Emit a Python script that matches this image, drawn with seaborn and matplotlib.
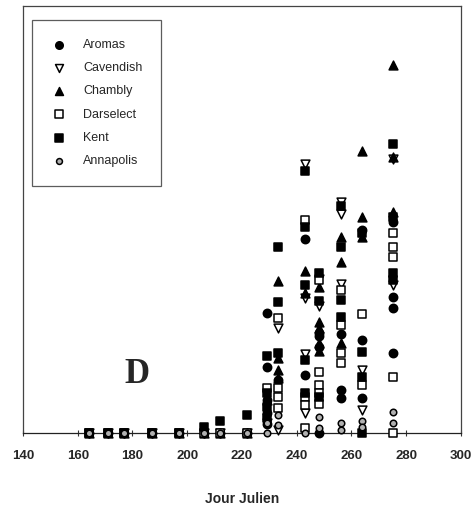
import matplotlib
matplotlib.use("Agg")
import matplotlib.pyplot as plt
import seaborn as sns
import pandas as pd

# Days sampled (Julian day) with no catches for any cultivar
early_days = [164, 171, 177, 187, 197, 206, 212, 222]

# Observations per cultivar: Julian day and relative value
aromas_day = early_days + [229, 229, 229, 229, 229, 233, 243, 243, 248, 248, 248, 248,
                           256, 256, 256, 264, 264, 264, 275, 275, 275, 275]
aromas_val = [0] * 8 + [28.0, 15.5, 7.7, 4.6, 2.0, 12.4, 45.4, 13.6, 23.5, 22.6, 20.2, 0,
                        23.3, 10.1, 8.1, 47.5, 21.8, 8.1, 49.5, 31.9, 29.2, 18.8]

cavendish_day = early_days + [229, 233, 233, 243, 243, 243, 243, 248, 248,
                              256, 256, 256, 264, 264, 275, 275]
cavendish_val = [0] * 8 + [2.3, 24.5, 0.7, 63.0, 31.7, 18.5, 4.6, 29.7, 36.0,
                           54.2, 51.4, 35.0, 14.8, 5.4, 64.1, 34.7]

chambly_day = early_days + [229, 233, 233, 233, 233, 243, 243, 248, 248, 248, 248, 248,
                            256, 256, 256, 264, 264, 264, 275, 275, 275]
chambly_val = [0] * 8 + [7.7, 35.6, 17.5, 14.8, 12.8, 38.0, 32.7, 34.3, 26.1, 24.5, 21.0, 19.3,
                         46.0, 40.1, 21.0, 66.0, 50.5, 46.0, 86.2, 64.7, 51.8]

darselect_day = early_days + [229, 233, 233, 233, 233, 243, 243, 243, 243,
                              248, 248, 248, 248, 248, 256, 256, 256, 256,
                              264, 264, 275, 275, 275, 275, 275]
darselect_val = [0] * 8 + [10.5, 26.9, 10.5, 8.5, 5.8, 49.9, 8.5, 6.6, 1.1,
                           35.8, 14.4, 11.2, 9.3, 6.9, 33.5, 25.3, 18.7, 16.3,
                           27.9, 11.2, 46.8, 43.6, 41.3, 13.2, 0]

kent_day = [164, 171, 177, 187, 197, 206, 212, 222,
            229, 229, 229, 229, 233, 233, 233, 243, 243, 243, 243, 243,
            248, 248, 248, 256, 256, 256, 256, 264, 264, 264, 264,
            275, 275, 275, 275]
kent_val = [0, 0, 0, 0, 0, 1.5, 2.9, 4.2,
            18.0, 9.3, 6.2, 3.5, 43.5, 30.6, 18.7, 61.4, 48.2, 34.7, 17.1, 9.3,
            37.5, 30.8, 8.5, 53.2, 43.6, 31.1, 27.2, 46.8, 19.0, 13.2, 0,
            67.7, 50.7, 37.4, 35.8]

annapolis_day = early_days + [229, 229, 233, 233, 243, 248, 248, 256, 256,
                              264, 264, 275, 275]
annapolis_val = [0] * 8 + [2.3, 0, 4.2, 1.9, 0, 3.8, 1.1, 2.3, 0.7,
                           2.7, 1.5, 5.0, 2.3]

cultivars = ["Aromas", "Cavendish", "Chambly", "Darselect", "Kent", "Annapolis"]
days = [aromas_day, cavendish_day, chambly_day, darselect_day, kent_day, annapolis_day]
values = [aromas_val, cavendish_val, chambly_val, darselect_val, kent_val, annapolis_val]

x_ticks = [140, 160, 180, 200, 220, 240, 260, 280, 300]

frames = []
for name, d, v in zip(cultivars, days, values):
    frames.append(pd.DataFrame({"jour": d, "valeur": v, "cultivar": name}))
df = pd.concat(frames, ignore_index=True)

sns.set_style("white")
plt.rcParams["font.family"] = ["Liberation Sans", "DejaVu Sans"]

fig = plt.figure(figsize=(4.72, 5.12), dpi=100)
ax = fig.add_axes([0.0487, 0.1543, 0.928, 0.834])

styles = {
    "Aromas":    dict(marker="o", s=36, facecolor="black", edgecolor="black"),
    "Cavendish": dict(marker="v", s=40, facecolor="white", edgecolor="black"),
    "Chambly":   dict(marker="^", s=40, facecolor="black", edgecolor="black"),
    "Darselect": dict(marker="s", s=34, facecolor="white", edgecolor="black"),
    "Kent":      dict(marker="s", s=34, facecolor="black", edgecolor="black"),
    "Annapolis": dict(marker="o", s=22, facecolor="#b0b0b0", edgecolor="black"),
}

for name in cultivars:
    st = styles[name]
    sub = df[df["cultivar"] == name]
    sns.scatterplot(data=sub, x="jour", y="valeur", ax=ax, label=name,
                    marker=st["marker"], s=st["s"], color=st["facecolor"],
                    edgecolor=st["edgecolor"], linewidth=1.1, zorder=3,
                    clip_on=False)

ax.set_xlim(140, 300)
ax.set_ylim(0, 100)
ax.set_xticks(x_ticks)
ax.set_xticklabels([str(t) for t in x_ticks], fontsize=9.5, fontweight="bold")
ax.set_yticks([])
ax.set_ylabel("")
ax.tick_params(axis="x", direction="inout", length=4, width=0.8, color="#333333",
               pad=10, bottom=True)
ax.set_xlabel("Jour Julien", fontsize=10, fontweight="bold", labelpad=22)

for side in ["left", "right", "top", "bottom"]:
    ax.spines[side].set_color("#444444")
    ax.spines[side].set_linewidth(0.9)
ax.spines["bottom"].set_color("#222222")

ax.text(181.5, 13.6, "D", fontsize=25, fontweight="bold",
        family=["Liberation Serif", "DejaVu Serif"], ha="center", va="center")

leg = ax.legend(loc="upper left", bbox_to_anchor=(0.0205, 0.967), frameon=True,
                fancybox=False, shadow=False, fontsize=9, handletextpad=1.3,
                labelspacing=0.9, borderpad=1.5, borderaxespad=0,
                markerscale=0.9, handlelength=1.3)
leg.get_frame().set_edgecolor("#333333")
leg.get_frame().set_linewidth(0.9)

fig.savefig("out.png", dpi=100)
